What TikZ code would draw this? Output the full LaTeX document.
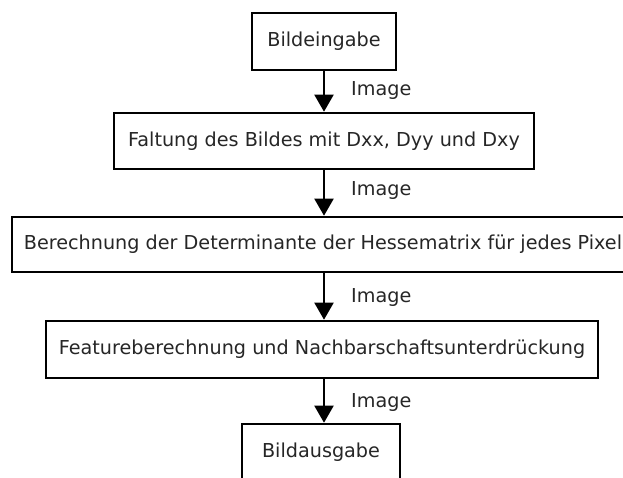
\documentclass[tikz,border=0pt]{standalone}
\usepackage{fontspec}
\setmainfont{DejaVu Sans}
\usetikzlibrary{arrows.meta}
\begin{document}
\begin{tikzpicture}[x=1pt,y=1pt,
  box/.style={draw=black,line width=2.6pt,fill=white,inner sep=0pt,align=center,
    text=black!85,font=\fontsize{19.2}{23}\selectfont},
  lbl/.style={anchor=west,inner sep=0pt,text=black!85,font=\fontsize{19.2}{23}\selectfont},
  flow/.style={line width=2pt,-{Triangle[width=19pt,length=17pt]}}]
\useasboundingbox (0,0) rectangle (623,-477);
\node[box,minimum width=144,minimum height=57] (b1) at (324,-41.5) {Bildeingabe};
\node[box,minimum width=420,minimum height=56] (b2) at (324,-141) {Faltung des Bildes mit Dxx, Dyy und Dxy};
\node[box,minimum width=622,minimum height=55] (b3) at (323,-244.5) {Berechnung der Determinante der Hessematrix für jedes Pixel};
\node[box,minimum width=552,minimum height=57] (b4) at (322,-349.5) {Featureberechnung und Nachbarschaftsunterdrückung};
\node[box,minimum width=158,minimum height=56] (b5) at (321,-452) {Bildausgabe};
\draw[flow] (b1.south) -- (b1.south |- b2.north);
\draw[flow] (b2.south -| b1.south) -- (b1.south |- b3.north);
\draw[flow] (b3.south -| b1.south) -- (b1.south |- b4.north);
\draw[flow] (b4.south -| b1.south) -- (b1.south |- b5.north);
\node[lbl] (l1) at (351,-90) {Image};
\node[lbl] (l2) at (351,-190) {Image};
\node[lbl] (l3) at (351,-297) {Image};
\node[lbl] (l4) at (351,-402) {Image};
\end{tikzpicture}
\end{document}
